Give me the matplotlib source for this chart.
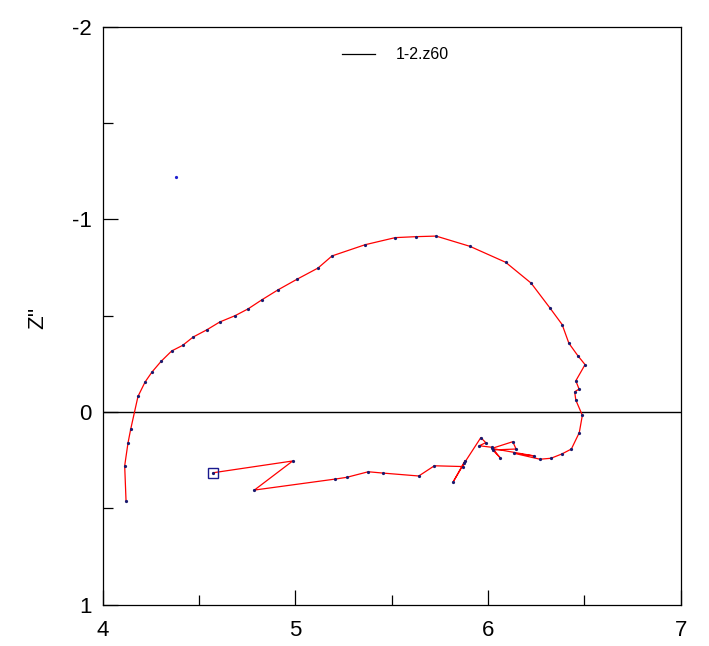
import matplotlib
matplotlib.use("Agg")
import matplotlib.pyplot as plt
from matplotlib.lines import Line2D
from matplotlib.ticker import MultipleLocator

plt.rcParams['font.family'] = ['Liberation Sans', 'DejaVu Sans']
plt.rcParams['axes.unicode_minus'] = False

# impedance sweep, first point is the one marked with a square
z_real = [4.575, 4.987, 4.788, 5.207, 5.267, 5.379, 5.457, 5.641, 5.722, 5.871,
          5.881, 5.820, 5.876, 5.963, 5.989, 5.955, 6.020, 6.063, 6.025, 6.146,
          6.129, 6.020, 6.241, 6.135, 6.270, 6.327, 6.383, 6.433, 6.474, 6.490,
          6.456, 6.450, 6.473, 6.456, 6.504, 6.466, 6.420, 6.385, 6.321, 6.224,
          6.092, 5.906, 5.731, 5.627, 5.519, 5.362, 5.191, 5.118, 5.011, 4.909,
          4.828, 4.755, 4.688, 4.608, 4.542, 4.470, 4.416, 4.359, 4.304, 4.257,
          4.221, 4.184, 4.146, 4.132, 4.115, 4.122]
z_imag = [0.315, 0.254, 0.405, 0.348, 0.339, 0.310, 0.317, 0.332, 0.279, 0.283,
          0.253, 0.362, 0.267, 0.133, 0.159, 0.175, 0.183, 0.237, 0.197, 0.192,
          0.154, 0.189, 0.228, 0.214, 0.245, 0.240, 0.218, 0.192, 0.107, 0.017,
          -0.062, -0.105, -0.119, -0.162, -0.246, -0.293, -0.357, -0.454, -0.541, -0.669,
          -0.777, -0.860, -0.913, -0.910, -0.905, -0.868, -0.810, -0.747, -0.690, -0.633,
          -0.583, -0.535, -0.500, -0.467, -0.427, -0.389, -0.346, -0.317, -0.263, -0.208,
          -0.156, -0.081, 0.090, 0.162, 0.279, 0.460]

# lone point away from the curve
stray_real = [4.381]
stray_imag = [-1.220]

x_ticks = [4, 5, 6, 7]
y_ticks = [-2, -1, 0, 1]
series_label = "1-2.z60"

fig = plt.figure(figsize=(7.09, 6.46), dpi=100)
ax = fig.add_axes([0.1446, 0.0639, 0.8154, 0.8949])

ax.axhline(0, color='black', lw=1.0, zorder=1)
ax.plot(z_real, z_imag, color='red', lw=0.9, zorder=2)
ax.plot(z_real, z_imag, ls='none', marker='o', ms=1.3, color='#1a1a6e', zorder=3)
ax.plot(z_real[:1], z_imag[:1], ls='none', marker='s', ms=6.5, mfc='none',
        mec='#1a1a8e', mew=1.0, zorder=4)
ax.plot(stray_real, stray_imag, ls='none', marker='o', ms=1.3, color='#2020d0')

ax.set_xlim(4, 7)
ax.set_ylim(1, -2)
ax.set_xticks(x_ticks)
ax.set_yticks(y_ticks)
ax.xaxis.set_minor_locator(MultipleLocator(0.5))
ax.yaxis.set_minor_locator(MultipleLocator(0.5))
ax.tick_params(which='both', direction='in', top=False, right=False,
               width=0.9, colors='black', labelsize=16)
ax.tick_params(which='major', length=11)
ax.tick_params(which='minor', length=7)
ax.tick_params(axis='x', pad=11)
ax.tick_params(axis='y', pad=8)
for sp in ax.spines.values():
    sp.set_linewidth(0.9)

ax.set_ylabel("Z''", fontsize=16)
ax.yaxis.set_label_coords(-0.094, 0.496)

proxy = Line2D([], [], color='black', lw=0.9)
ax.legend([proxy], [series_label], loc='center left', bbox_to_anchor=(0.414, 0.951),
          frameon=False, fontsize=11.5, handlelength=2.1, handletextpad=1.3,
          borderpad=0, borderaxespad=0)

fig.savefig('out.png', dpi=100)
